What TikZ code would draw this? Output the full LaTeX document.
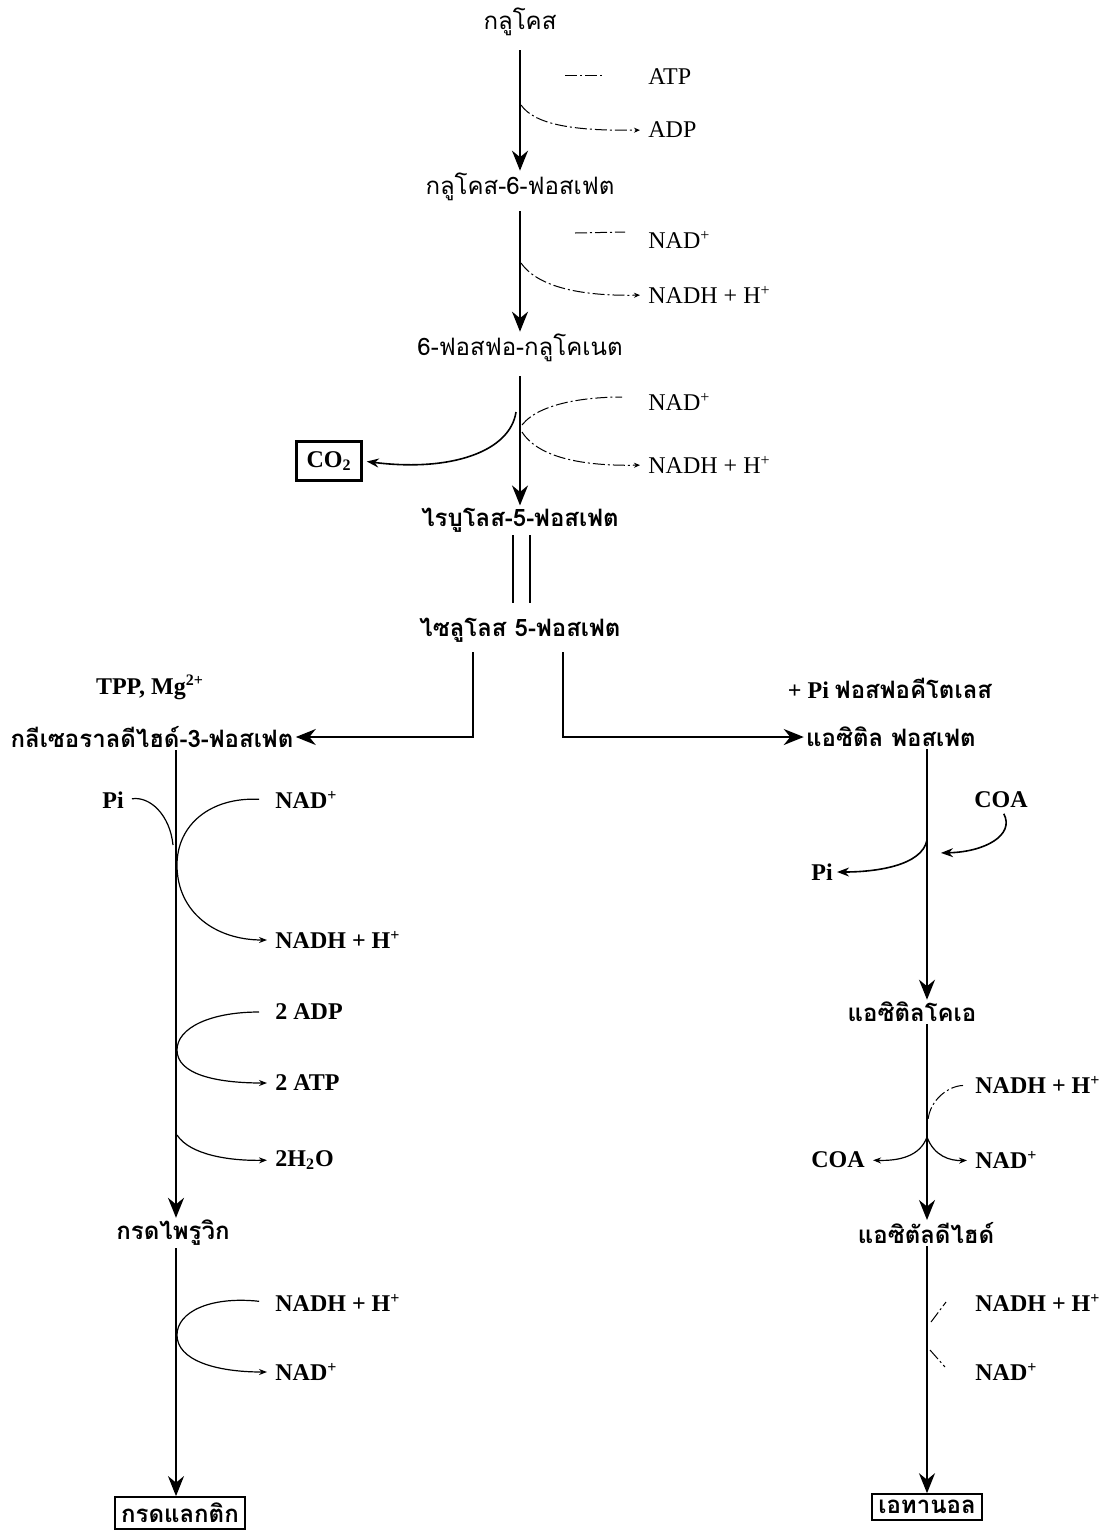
\documentclass[tikz,border=0pt]{standalone}
\usepackage{fontspec}
\setmainfont{Liberation Serif}
\newfontfamily\thai[Script=Thai]{Loma}
\usetikzlibrary{arrows.meta}
\begin{document}
\begin{tikzpicture}[x=0.5pt,y=-0.5pt,
  thtxt/.style={font=\thai\fontsize{12}{14}\selectfont, inner sep=1pt},
  thbold/.style={font=\thai\bfseries\fontsize{12}{14}\selectfont, inner sep=1pt},
  lat/.style={font=\fontsize{12}{14}\selectfont, anchor=west, inner sep=0pt},
  latb/.style={font=\bfseries\fontsize{12}{14}\selectfont, anchor=west, inner sep=0pt},
  main/.style={line width=1pt, -{Stealth[length=10pt,width=8pt]}},
  side/.style={line width=0.6pt},
  sidearr/.style={line width=0.6pt, -{Stealth[length=4pt,width=3pt]}, shorten >=4pt},
  midarr/.style={line width=0.8pt, -{Stealth[length=6pt,width=4.5pt]}, shorten >=2pt},
  faint/.style={line width=0.5pt, dash pattern=on 6pt off 1.5pt on 1pt off 1.5pt},
  faintarr/.style={faint, -{Stealth[length=3pt,width=2.5pt]}, shorten >=4pt},
  box/.style={draw, line width=1pt, inner sep=3pt}
]
\useasboundingbox (0,0) rectangle (1109,1532);
\coordinate (cx) at (520,0);
\coordinate (lx) at (176,0);
\coordinate (rx) at (927,0);

% ---- central chain ----
\node[thtxt] (glc) at (520,22) {กลูโคส};
\node[thtxt] (g6p) at (520,187) {กลูโคส-6-ฟอสเฟต};
\node[thtxt] (pg6) at (520,348) {6-ฟอสฟอ-กลูโคเนต};
\node[thbold] (ru5p) at (520,520) {ไรบูโลส-5-ฟอสเฟต};
\node[thbold] (xu5p) at (520,630) {ไซลูโลส 5-ฟอสเฟต};

\draw[main, shorten <=6pt] (glc.south) -- (g6p.north);
\draw[main, shorten <=4pt] (g6p.south) -- (pg6.north);
\draw[main, shorten <=6pt] (pg6.south) -- (ru5p.north);

% step 1
\node[lat] (atp) at (648,77) {ATP};
\node[lat] (adp) at (648,130) {ADP};
\draw[faint] (565,75) -- (602,75);
\draw[faintarr] (521,105) .. controls (535,125) and (575,131) .. (adp.west);

% step 2
\node[lat] (nad1) at (648,240) {NAD\textsuperscript{+}};
\node[lat] (nadh1) at (648,295) {NADH + H\textsuperscript{+}};
\draw[faint] (575,233) -- (625,232);
\draw[faintarr] (521,263) .. controls (540,290) and (590,296) .. (nadh1.west);

% step 3
\node[lat] (nad2) at (648,402) {NAD\textsuperscript{+}};
\node[lat] (nadh2) at (648,465) {NADH + H\textsuperscript{+}};
\draw[faint] (522,425) .. controls (540,402) and (590,397) .. (622,397);
\draw[faintarr] (522,432) .. controls (540,460) and (590,466) .. (nadh2.west);
\node[box, line width=1.3pt, inner xsep=5pt, inner ysep=5pt, font=\bfseries\fontsize{12}{14}\selectfont] (co2) at (329,461) {CO\textsubscript{2}};
\draw[midarr] (516,412) .. controls (510,452) and (450,472) .. (co2.east);

% ribulose -> xylulose
\draw[line width=0.8pt] (513,535) -- (513,603);
\draw[line width=0.8pt] (530,535) -- (530,603);

% ---- branches ----
\node[thbold] (gap) at (152,737) {กลีเซอราลดีไฮด์-3-ฟอสเฟต};
\node[thbold] (acp) at (891,737) {แอซิติล ฟอสเฟต};
\node[latb, anchor=center] (tpp) at (150,687) {TPP, Mg\textsuperscript{2+}};
\node[latb, anchor=center] (pk) at (890,688) {+ Pi {\thai ฟอสฟอคีโตเลส}};
\draw[main] (473,652) |- (gap.east);
\draw[main] (563,652) |- (acp.west);

% ---- left (lactic) ----
\node[thbold] (pyr) at (173,1233) {กรดไพรูวิก};
\node[box, font=\thai\bfseries\fontsize{12}{14}\selectfont] (lac) at (180,1513) {กรดแลกติก};
\draw[main] (gap.south -| lx) -- (pyr.north -| lx);
\draw[main] (pyr.south -| lx) -- (lac.north -| lx);

\node[latb, anchor=center] (pi1) at (113,800) {Pi};
\node[latb] (nad3) at (275,800) {NAD\textsuperscript{+}};
\node[latb] (nadh3) at (275,940) {NADH + H\textsuperscript{+}};
\draw[line width=0.6pt, shorten <=4pt] (pi1.east) .. controls (150,796) and (170,815) .. (173,845);
\draw[sidearr, shorten <=8pt] (nad3.west) .. controls (210,797) and (177,825) .. (177,865)
   .. controls (177,912) and (215,940) .. (nadh3.west);

\node[latb] (adp2) at (275,1012) {2 ADP};
\node[latb] (atp2) at (275,1083) {2 ATP};
\draw[sidearr, shorten <=8pt] (adp2.west) .. controls (210,1012) and (177,1028) .. (177,1050)
   .. controls (177,1074) and (215,1083) .. (atp2.west);
\node[latb] (h2o) at (275,1160) {2H\textsubscript{2}O};
\draw[sidearr] (177,1135) .. controls (190,1155) and (230,1161) .. (h2o.west);

\node[latb] (nadh4) at (275,1303) {NADH + H\textsuperscript{+}};
\node[latb] (nad4) at (275,1372) {NAD\textsuperscript{+}};
\draw[sidearr, shorten <=8pt] (nadh4.west) .. controls (210,1296) and (177,1312) .. (177,1335)
   .. controls (177,1360) and (215,1372) .. (nad4.west);

% ---- right (ethanol) ----
\node[thbold] (acoa) at (912,1012) {แอซิติลโคเอ};
\node[thbold] (acald) at (926,1233) {แอซิตัลดีไฮด์};
\node[box, font=\thai\bfseries\fontsize{12}{14}\selectfont] (eth) at (927,1507) {เอทานอล};
\draw[main] (acp.south -| rx) -- (acoa.north -| rx);
\draw[main] (acoa.south -| rx) -- (acald.north -| rx);
\draw[main] (acald.south -| rx) -- (eth.north -| rx);

\node[latb, anchor=center] (coa1) at (1001,800) {COA};
\node[latb, anchor=center] (pi2) at (822,872) {Pi};
\draw[midarr, shorten <=3pt] (coa1.south) .. controls (1015,835) and (985,852) .. (937,853);
\draw[midarr] (927,840) .. controls (922,866) and (875,872) .. (pi2.east);

\node[latb] (nadh5) at (975,1085) {NADH + H\textsuperscript{+}};
\node[latb, anchor=center] (coa2) at (838,1160) {COA};
\node[latb] (nad5) at (975,1160) {NAD\textsuperscript{+}};
\draw[faint, shorten <=6pt] (nadh5.west) .. controls (948,1086) and (930,1100) .. (928,1120);
\draw[sidearr] (927,1137) .. controls (920,1156) and (900,1161) .. (coa2.east);
\draw[sidearr] (927,1137) .. controls (934,1156) and (950,1161) .. (nad5.west);

\node[latb] (nadh6) at (975,1303) {NADH + H\textsuperscript{+}};
\node[latb] (nad6) at (975,1372) {NAD\textsuperscript{+}};
\draw[faint] (931,1322) -- (946,1302);
\draw[faint] (930,1350) -- (945,1367);
\end{tikzpicture}
\end{document}
